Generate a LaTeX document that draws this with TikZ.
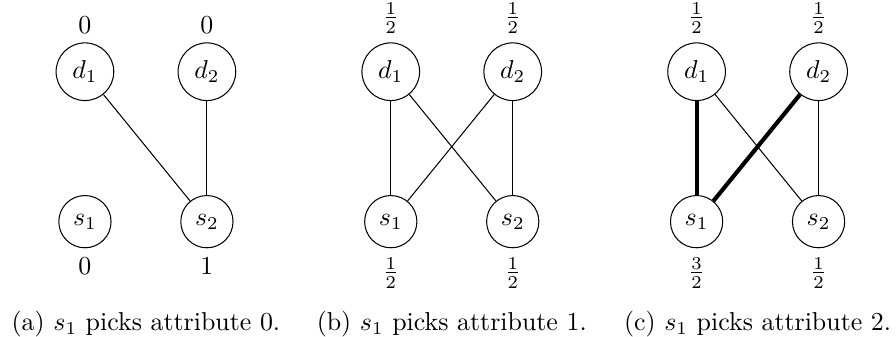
\documentclass[tikz,border=0pt]{standalone}
\usepackage{amsmath}
\tikzset{
    vertex/.style={draw,circle},
    boldedge/.style={line width=1.6pt}
}

\begin{document}
\begin{tikzpicture}
    \useasboundingbox (-3.28em,-4.44em) rectangle (31.32em,8.56em);
    % (a)
    \node[vertex,label=above:$0$] (da1) at (0,5.79em) {$d_1$};
    \node[vertex,label=above:$0$] (da2) at (4.71em,5.79em) {$d_2$};
    \node[vertex,label=below:$0$] (sa1) at (0,0) {$s_1$};
    \node[vertex,label=below:$1$] (sa2) at (4.71em,0) {$s_2$};
    \draw (da1) -- (sa2);
    \draw (da2) -- (sa2);
    \node[anchor=base] (capa) at (2.355em,-4.22em) {(a) $s_1$ picks attribute 0.};
    % (b)
    \begin{scope}[xshift=11.81em]
      \node[vertex,label=above:$\frac{1}{2}$] (db1) at (0,5.79em) {$d_1$};
      \node[vertex,label=above:$\frac{1}{2}$] (db2) at (4.71em,5.79em) {$d_2$};
      \node[vertex,label=below:$\frac{1}{2}$] (sb1) at (0,0) {$s_1$};
      \node[vertex,label=below:$\frac{1}{2}$] (sb2) at (4.71em,0) {$s_2$};
      \draw (db1) -- (sb1);
      \draw (db1) -- (sb2);
      \draw (db2) -- (sb1);
      \draw (db2) -- (sb2);
      \node[anchor=base] (capb) at (2.355em,-4.22em) {(b) $s_1$ picks attribute 1.};
    \end{scope}
    % (c)
    \begin{scope}[xshift=23.62em]
      \node[vertex,label=above:$\frac{1}{2}$] (dc1) at (0,5.79em) {$d_1$};
      \node[vertex,label=above:$\frac{1}{2}$] (dc2) at (4.71em,5.79em) {$d_2$};
      \node[vertex,label=below:$\frac{3}{2}$] (sc1) at (0,0) {$s_1$};
      \node[vertex,label=below:$\frac{1}{2}$] (sc2) at (4.71em,0) {$s_2$};
      \draw[boldedge] (dc1) -- (sc1);
      \draw[boldedge] (dc2) -- (sc1);
      \draw (dc1) -- (sc2);
      \draw (dc2) -- (sc2);
      \node[anchor=base] (capc) at (2.355em,-4.22em) {(c) $s_1$ picks attribute 2.};
    \end{scope}
\end{tikzpicture}
\end{document}
